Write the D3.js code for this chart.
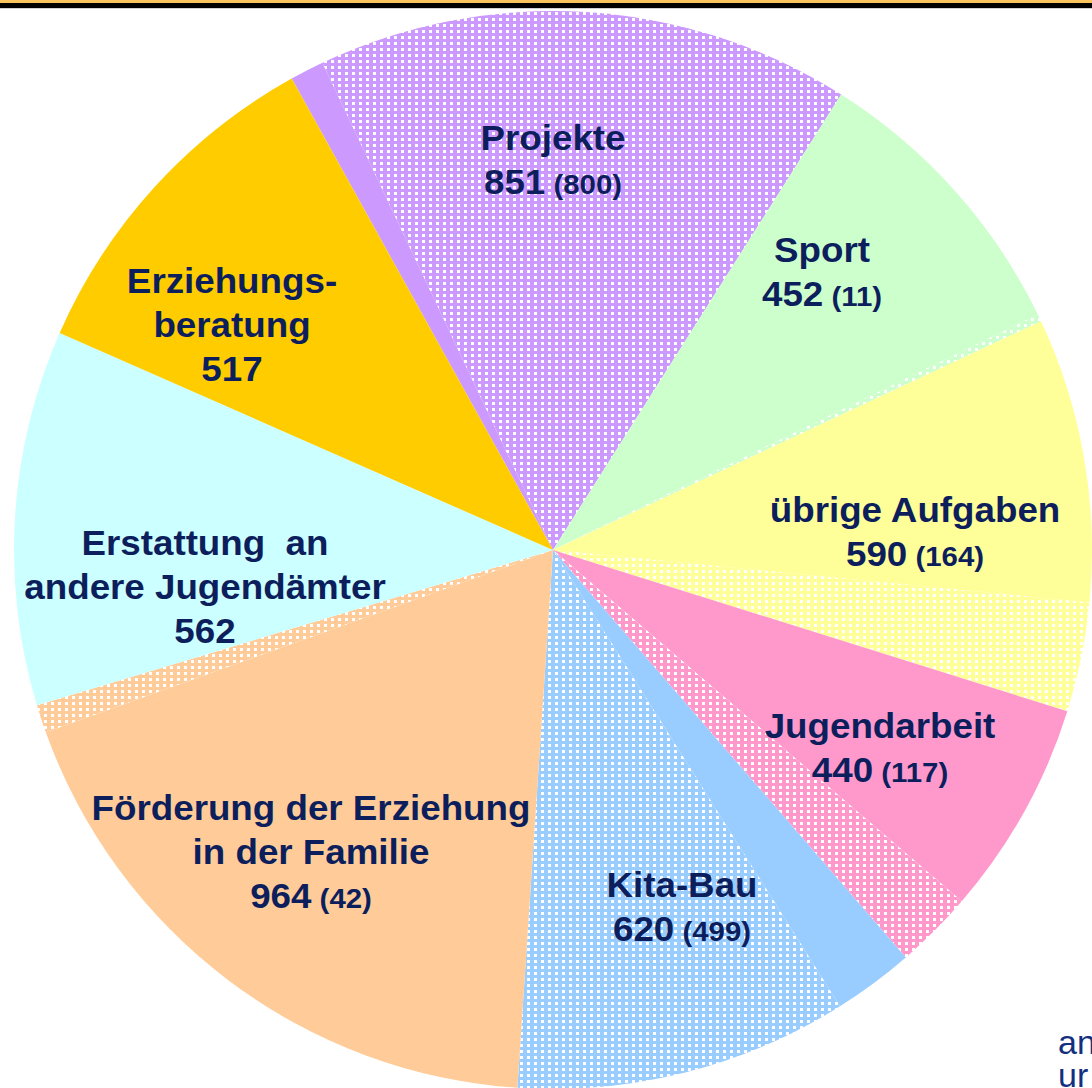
<!DOCTYPE html>
<html>
  <head>
    <meta charset="utf-8" />
    <script src="https://d3js.org/d3.v7.min.js"></script>
    <style>
      body {
        margin: 0px;
        background: #fff;
      }
      .label {
        fill: #0c1f5c;
        font-family: "Liberation Sans", Arial, sans-serif;
        font-weight: bold;
        text-anchor: middle;
        white-space: pre;
      }
    </style>
  </head>
  <body>
    <svg width="1092" height="1088"></svg>
    <script>
      // data (clockwise, starting at the top-left edge of "Projekte")
      const categories = [
        "Projekte",
        "Sport",
        "übrige Aufgaben",
        "Jugendarbeit",
        "Kita-Bau",
        "Förderung der Erziehung in der Familie",
        "Erstattung an andere Jugendämter",
        "Erziehungsberatung",
      ];
      const totals = [851, 452, 590, 440, 620, 964, 562, 517];
      // part shown hatched, the number in brackets
      const subValues = [800, 11, 164, 117, 499, 42, null, null];
      const labelLines = [
        ["Projekte"],
        ["Sport"],
        ["übrige Aufgaben"],
        ["Jugendarbeit"],
        ["Kita-Bau"],
        ["Förderung der Erziehung", "in der Familie"],
        ["Erstattung  an", "andere Jugendämter"],
        ["Erziehungs-", "beratung"],
      ];
      const colors = [
        "#cc99ff",
        "#ccffcc",
        "#ffff99",
        "#ff99cc",
        "#99ccff",
        "#ffcc99",
        "#ccffff",
        "#ffcc00",
      ];

      // layout
      const cx = 553,
        cy = 550,
        radius = 539;
      const startDeg = -29;
      const lineH = 44;
      // label anchor (centre x, baseline of first line)
      const labelAnchor = [
        [553, 150],
        [822, 262],
        [915, 522],
        [880, 738],
        [682, 897],
        [311, 820],
        [205, 555],
        [232, 293],
      ];

      const svg = d3.select("svg");

      // top rule
      svg.append("rect").attr("x", 0).attr("y", 0).attr("width", 1092).attr("height", 3).attr("fill", "#f9c45e");
      svg.append("rect").attr("x", 0).attr("y", 3).attr("width", 1092).attr("height", 5).attr("fill", "#000");
      svg.append("rect").attr("x", 0).attr("y", 8).attr("width", 1092).attr("height", 1).attr("fill", "#d0d0d0");

      // hatch patterns: white squares on the slice colour
      const defs = svg.append("defs");
      colors.forEach((c, i) => {
        const p = defs
          .append("pattern")
          .attr("id", "pat" + i)
          .attr("patternUnits", "userSpaceOnUse")
          .attr("width", 7)
          .attr("height", 6)
          .attr("x", 0)
          .attr("y", 0);
        p.append("rect").attr("width", 7).attr("height", 6).attr("fill", c);
        p.append("rect")
          .attr("x", 2)
          .attr("y", 2)
          .attr("width", 3)
          .attr("height", 3)
          .attr("fill", "#fff")
          .attr("shape-rendering", "crispEdges");
      });

      // each category split into a plain part and a hatched part
      const segments = [];
      categories.forEach((name, i) => {
        const sub = subValues[i] || 0;
        segments.push({ cat: i, hatched: false, value: totals[i] - sub });
        if (sub > 0) segments.push({ cat: i, hatched: true, value: sub });
      });

      const a0 = (startDeg * Math.PI) / 180;
      const pie = d3
        .pie()
        .sort(null)
        .value((d) => d.value)
        .startAngle(a0)
        .endAngle(a0 + 2 * Math.PI);
      const arc = d3.arc().innerRadius(0).outerRadius(radius);

      const g = svg.append("g").attr("transform", `translate(${cx},${cy})`);
      g.selectAll("path")
        .data(pie(segments))
        .enter()
        .append("path")
        .attr("d", arc)
        .attr("fill", (d) => (d.data.hatched ? `url(#pat${d.data.cat})` : colors[d.data.cat]));

      // labels, slightly widened like the original
      categories.forEach((name, i) => {
        const [x, y] = labelAnchor[i];
        const t = svg
          .append("text")
          .attr("class", "label")
          .attr("transform", `translate(${x},${y}) scale(1.05,1)`);
        const lines = labelLines[i];
        lines.forEach((ln, k) => {
          t.append("tspan")
            .attr("x", 0)
            .attr("y", k * lineH)
            .style("font-size", "35px")
            .text(ln);
        });
        t.append("tspan")
          .attr("x", 0)
          .attr("y", lines.length * lineH)
          .style("font-size", "35px")
          .text(totals[i]);
        if (subValues[i] != null) {
          t.append("tspan").style("font-size", "28px").text(" (" + subValues[i] + ")");
        }
      });

      // cut-off text at the lower right edge
      svg.append("text").attr("x", 1058).attr("y", 1054)
        .style("font-family", "'Liberation Sans', Arial, sans-serif")
        .style("font-size", "34px").attr("fill", "#13307f").text("an");
      svg.append("text").attr("x", 1058).attr("y", 1087)
        .style("font-family", "'Liberation Sans', Arial, sans-serif")
        .style("font-size", "34px").attr("fill", "#13307f").text("ur");
    </script>
  </body>
</html>
